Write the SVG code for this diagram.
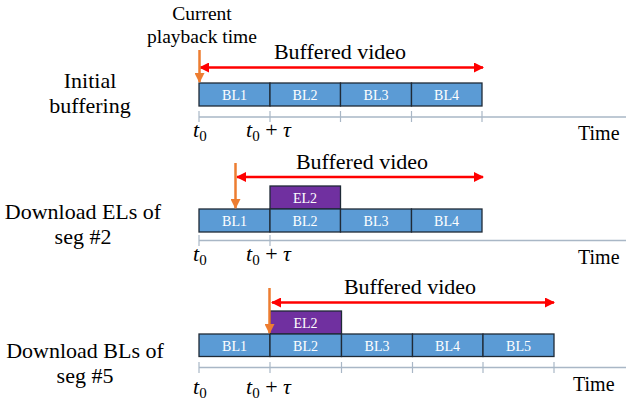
<svg xmlns="http://www.w3.org/2000/svg" width="626" height="410" viewBox="0 0 626 410">
  <defs>
    <marker id="redHead" viewBox="0 0 10 10" refX="9" refY="5" markerWidth="4" markerHeight="4" orient="auto-start-reverse">
      <path d="M0,0 L10,5 L0,10 z" fill="#FF0000"/>
    </marker>
    <marker id="orangeHead" viewBox="0 0 10 10" refX="9" refY="5" markerWidth="4" markerHeight="4" orient="auto">
      <path d="M0,0 L10,5 L0,10 z" fill="#ED7D31"/>
    </marker>
  </defs>
  <style>
    text { font-family: "Liberation Serif", "Times New Roman", serif; fill: #000; }
    .bl { fill: #5B9BD5; stroke: #1F2A36; stroke-width: 1.3; }
    .el { fill: #7030A0; stroke: #1F2A36; stroke-width: 1.3; }
    .seg { font-size: 14px; fill: #FFFFFF; text-anchor: middle; }
    .lbl { font-size: 22px; text-anchor: middle; }
    .axis { stroke: #A9B7C6; stroke-width: 1.5; fill: none; }
    .tick { stroke: #A9B7C6; stroke-width: 1.2; }
    .red { stroke: #FF0000; stroke-width: 2.5; fill: none; marker-start: url(#redHead); marker-end: url(#redHead); }
    .orange { stroke: #ED7D31; stroke-width: 2.5; fill: none; marker-end: url(#orangeHead); }
    .math { font-size: 22px; }
    .it { font-style: italic; }
    .sub { font-size: 15px; font-style: normal; }
  </style>

  <!-- Row 1: initial buffering -->
  <g id="row1-label">
    <text class="lbl" x="90" y="88">Initial</text>
    <text class="lbl" x="90" y="113">buffering</text>
  </g>
  <g id="row1-current">
    <text x="202" y="20" font-size="19.5" text-anchor="middle">Current</text>
    <text x="202" y="43" font-size="19.5" text-anchor="middle">playback time</text>
  </g>
  <g id="row1-buffered">
    <text class="lbl" x="340" y="59">Buffered video</text>
  </g>
  <g id="row1-segments">
    <rect class="bl" x="199" y="83" width="71" height="23"/>
    <rect class="bl" x="270" y="83" width="70.5" height="23"/>
    <rect class="bl" x="340.5" y="83" width="71" height="23"/>
    <rect class="bl" x="411.5" y="83" width="70.5" height="23"/>
    <text class="seg" x="234.5" y="99.5">BL1</text>
    <text class="seg" x="305" y="99.5">BL2</text>
    <text class="seg" x="376" y="99.5">BL3</text>
    <text class="seg" x="446.5" y="99.5">BL4</text>
  </g>
  <g id="row1-axis">
    <line class="axis" x1="199" y1="117" x2="626" y2="117"/>
    <line class="tick" x1="199" y1="111" x2="199" y2="122"/>
    <line class="tick" x1="270" y1="111" x2="270" y2="122"/>
    <line class="tick" x1="340.5" y1="111" x2="340.5" y2="122"/>
    <line class="tick" x1="411.5" y1="111" x2="411.5" y2="122"/>
    <line class="tick" x1="482" y1="111" x2="482" y2="122"/>
    <text class="math" x="193" y="137"><tspan class="it">t</tspan><tspan class="sub" dy="4">0</tspan></text>
    <text class="math" x="246" y="137"><tspan class="it">t</tspan><tspan class="sub" dy="4">0</tspan><tspan dy="-4"> + </tspan><tspan class="it">τ</tspan></text>
    <text x="578" y="140" font-size="20">Time</text>
  </g>

  <!-- Row 2: download ELs of segment 2 -->
  <g id="row2-label">
    <text class="lbl" x="83" y="219">Download ELs of</text>
    <text class="lbl" x="83" y="244">seg #2</text>
  </g>
  <g id="row2-buffered">
    <text class="lbl" x="362" y="169">Buffered video</text>
  </g>
  <g id="row2-segments">
    <rect class="el" x="270" y="186" width="70.5" height="23"/>
    <rect class="bl" x="199" y="209" width="71" height="23"/>
    <rect class="bl" x="270" y="209" width="70.5" height="23"/>
    <rect class="bl" x="340.5" y="209" width="71" height="23"/>
    <rect class="bl" x="411.5" y="209" width="70.5" height="23"/>
    <text class="seg" x="305" y="202.5">EL2</text>
    <text class="seg" x="234.5" y="225.5">BL1</text>
    <text class="seg" x="305" y="225.5">BL2</text>
    <text class="seg" x="376" y="225.5">BL3</text>
    <text class="seg" x="446.5" y="225.5">BL4</text>
  </g>
  <g id="row2-axis">
    <line class="axis" x1="199" y1="240.5" x2="626" y2="240.5"/>
    <line class="tick" x1="199" y1="235" x2="199" y2="246"/>
    <line class="tick" x1="270" y1="235" x2="270" y2="246"/>
    <text class="math" x="193" y="261"><tspan class="it">t</tspan><tspan class="sub" dy="4">0</tspan></text>
    <text class="math" x="246" y="261"><tspan class="it">t</tspan><tspan class="sub" dy="4">0</tspan><tspan dy="-4"> + </tspan><tspan class="it">τ</tspan></text>
    <text x="578" y="264" font-size="20">Time</text>
  </g>

  <!-- Row 3: download BLs of segment 5 -->
  <g id="row3-label">
    <text class="lbl" x="85" y="358">Download BLs of</text>
    <text class="lbl" x="85" y="383">seg #5</text>
  </g>
  <g id="row3-buffered">
    <text class="lbl" x="410" y="294">Buffered video</text>
  </g>
  <g id="row3-segments">
    <rect class="el" x="270" y="311" width="71.5" height="23"/>
    <rect class="bl" x="199" y="334" width="71" height="22.5"/>
    <rect class="bl" x="270" y="334" width="71.5" height="22.5"/>
    <rect class="bl" x="341.5" y="334" width="71" height="22.5"/>
    <rect class="bl" x="412.5" y="334" width="70.5" height="22.5"/>
    <rect class="bl" x="483" y="334" width="71" height="22.5"/>
    <text class="seg" x="305.5" y="327.5">EL2</text>
    <text class="seg" x="234.5" y="350.5">BL1</text>
    <text class="seg" x="305.5" y="350.5">BL2</text>
    <text class="seg" x="377" y="350.5">BL3</text>
    <text class="seg" x="447.5" y="350.5">BL4</text>
    <text class="seg" x="518.5" y="350.5">BL5</text>
  </g>
  <g id="row3-axis">
    <line class="axis" x1="199" y1="367.5" x2="626" y2="367.5"/>
    <line class="tick" x1="199" y1="362" x2="199" y2="373"/>
    <line class="tick" x1="270" y1="362" x2="270" y2="373"/>
    <line class="tick" x1="341.5" y1="362" x2="341.5" y2="373"/>
    <line class="tick" x1="412.5" y1="362" x2="412.5" y2="373"/>
    <line class="tick" x1="483" y1="362" x2="483" y2="373"/>
    <line class="tick" x1="554" y1="362" x2="554" y2="373"/>
    <text class="math" x="193" y="394"><tspan class="it">t</tspan><tspan class="sub" dy="4">0</tspan></text>
    <text class="math" x="246" y="394"><tspan class="it">t</tspan><tspan class="sub" dy="4">0</tspan><tspan dy="-4"> + </tspan><tspan class="it">τ</tspan></text>
    <text x="573" y="391" font-size="20">Time</text>
  </g>

  <!-- Arrows: buffered span (red) and playback position (orange) -->
  <g id="connectors">
    <line class="red" x1="200" y1="67.5" x2="483" y2="67.5"/>
    <line class="orange" x1="199.5" y1="50" x2="199.5" y2="82"/>
    <line class="red" x1="237" y1="177" x2="483" y2="177"/>
    <line class="orange" x1="235.5" y1="163" x2="235.5" y2="208"/>
    <line class="red" x1="272" y1="302.5" x2="554" y2="302.5"/>
    <line class="orange" x1="269.5" y1="288" x2="269.5" y2="333"/>
  </g>
</svg>
